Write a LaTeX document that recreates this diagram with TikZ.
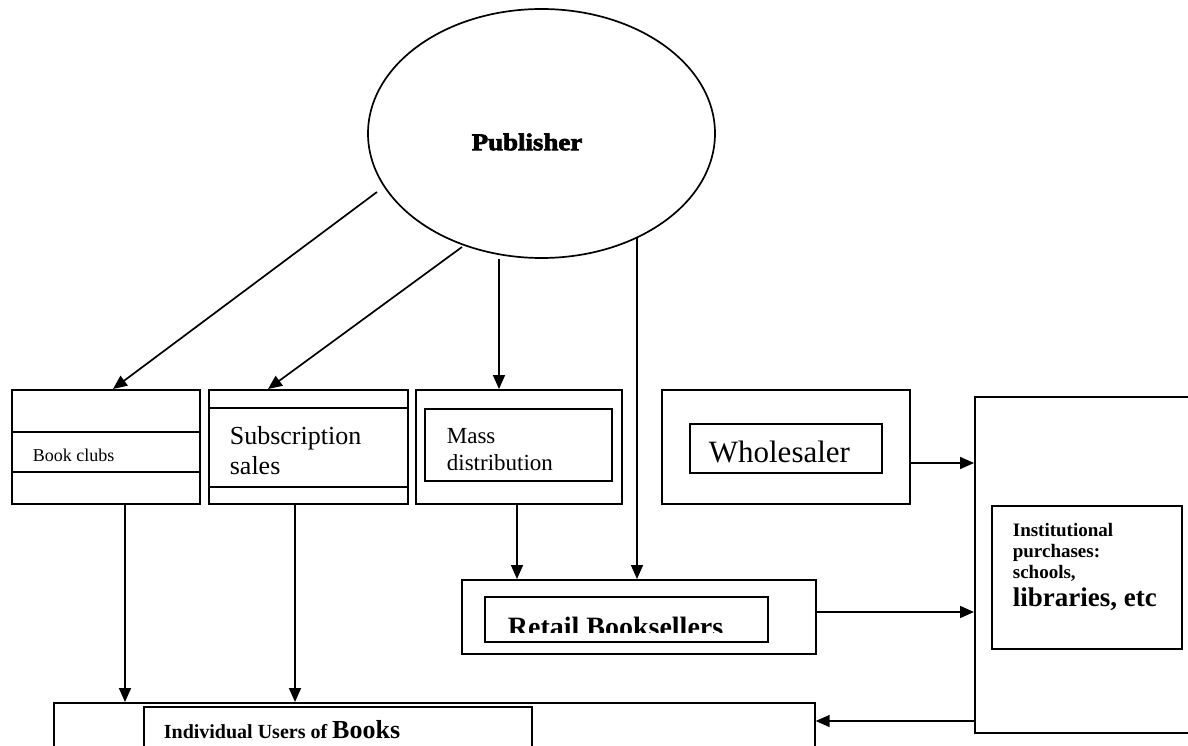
\documentclass[tikz,border=0pt]{standalone}
\usepackage{fontspec}
\setmainfont{Liberation Serif}
\newfontfamily\heavy[FakeBold=3,FakeStretch=1.12]{Liberation Serif Bold}
\usetikzlibrary{arrows.meta,calc,shapes.geometric}
\begin{document}
\begin{tikzpicture}[x=1pt,y=-1pt,line width=1.7pt,
  box/.style={draw,rectangle,inner sep=0pt,anchor=north west},
  arr/.style={-{Triangle[length=14pt,width=12pt]}},
  txt/.style={anchor=base west,inner sep=0pt}]
\useasboundingbox (0,0) rectangle (1188,746);

% Publisher
\node[draw,ellipse,inner sep=0pt,minimum width=347pt,minimum height=249pt] (pub) at (541.5,133.5) {};
\node[inner sep=0pt] (pubt) at (527,142) {\heavy\fontsize{24}{28}\selectfont Publisher};

% first row
\node[box,minimum width=188pt,minimum height=114pt] (bc) at (11,389) {};
\draw (bc.west |- 0,432) -- (bc.east |- 0,432);
\draw (bc.west |- 0,472) -- (bc.east |- 0,472);
\node[txt,font=\fontsize{18}{21}\selectfont] (bct) at (32,461) {Book clubs};

\node[box,minimum width=199pt,minimum height=114pt] (sub) at (208,389) {};
\draw (sub.west |- 0,408) -- (sub.east |- 0,408);
\draw (sub.west |- 0,487) -- (sub.east |- 0,487);
\node[txt,font=\fontsize{26}{30}\selectfont] (subt1) at (229,444) {Subscription};
\node[txt,font=\fontsize{26}{30}\selectfont] (subt2) at (229,474) {sales};

\node[box,minimum width=206pt,minimum height=114pt] (mass) at (415,389) {};
\node[box,minimum width=187pt,minimum height=72pt] (massi) at (424,408) {};
\node[txt,font=\fontsize{23}{27}\selectfont] (masst1) at (446,443) {Mass};
\node[txt,font=\fontsize{23}{27}\selectfont] (masst2) at (446,470) {distribution};

\node[box,minimum width=248pt,minimum height=114pt] (wh) at (661,389) {};
\node[box,minimum width=192pt,minimum height=49pt] (whi) at (689,423) {};
\node[txt,font=\fontsize{31}{34}\selectfont] (wht) at (708,462) {Wholesaler};

% institutional
\node[box,minimum width=230pt,minimum height=336pt] (inst) at (974,396) {};
\node[box,minimum width=190pt,minimum height=143pt] (insti) at (991,505) {};
\node[txt,font=\bfseries\fontsize{19}{20}\selectfont] (instt1) at (1012,536) {Institutional};
\node[txt,font=\bfseries\fontsize{19}{20}\selectfont] (instt2) at (1012,557) {purchases:};
\node[txt,font=\bfseries\fontsize{19}{20}\selectfont] (instt3) at (1012,578) {schools,};
\node[txt,font=\bfseries\fontsize{27}{28}\selectfont] (instt4) at (1012,606) {libraries, etc};

% retail
\node[box,minimum width=354pt,minimum height=74pt] (ret) at (461,579) {};
\node[box,minimum width=283pt,minimum height=45pt] (reti) at (484,596) {};
\begin{scope}
\clip (484,596) rectangle (767,632);
\node[txt,font=\bfseries\fontsize{28}{30}\selectfont] (rett) at (507,636) {Retail Booksellers};
\end{scope}

% individual
\node[box,minimum width=761pt,minimum height=80pt] (ind) at (53,702) {};
\node[box,minimum width=388pt,minimum height=80pt] (indi) at (143,706) {};
\node[txt,font=\bfseries\fontsize{20}{22}\selectfont] (indt) at (163,738) {Individual Users of {\fontsize{26}{28}\selectfont Books}};

% connectors
\coordinate (s1) at (377,192);
\coordinate (s2) at (462,247);
\draw[arr] (s1) -- ($(bc.north west)+(102,0)$);
\draw[arr] (s2) -- ($(sub.north west)+(60,0)$);
\draw[arr] (pub.south -| 499,0) -- (mass.north -| 499,0);
\coordinate (s4) at (637,238);
\draw[arr] (s4) -- (s4 |- ret.north);
\draw[arr] ($(mass.south west)+(102,0)$) coordinate (m1) -- (m1 |- ret.north);
\draw[arr] ($(bc.south west)+(114,0)$) coordinate (b1) -- (b1 |- ind.north);
\draw[arr] ($(sub.south west)+(87,0)$) coordinate (b2) -- (b2 |- ind.north);
\draw[arr] (wh.east |- 0,463) -- (inst.west |- 0,463);
\draw[arr] (ret.east |- 0,612) -- (inst.west |- 0,612);
\draw[arr] (inst.west |- 0,721) -- (ind.east |- 0,721);
\end{tikzpicture}
\end{document}
